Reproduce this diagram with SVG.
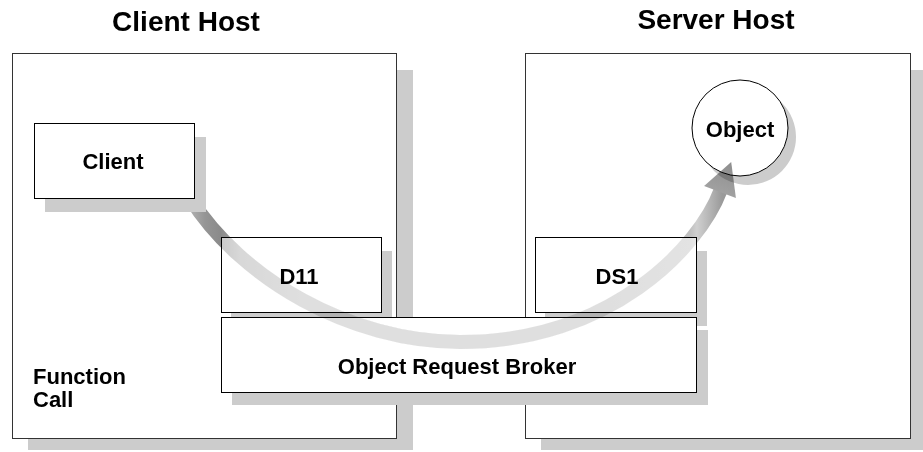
<svg xmlns="http://www.w3.org/2000/svg" width="923" height="452" viewBox="0 0 923 452">
<style>
.box{fill:#fff;stroke:#000;stroke-width:1}
.host{fill:#fff;stroke:#333;stroke-width:1}
.sh{fill:#cccccc;stroke:none}
.t{font-family:"Liberation Sans",Arial,sans-serif;font-weight:bold;font-size:22px;fill:#000}
.title{font-family:"Liberation Sans",Arial,sans-serif;font-weight:bold;font-size:28px;fill:#000}
</style>
<defs>
<linearGradient id="shaft" gradientUnits="userSpaceOnUse" x1="185" y1="0" x2="745" y2="0">
<stop offset="0.009" stop-color="#b0b0b0"/>
<stop offset="0.036" stop-color="#959595"/>
<stop offset="0.064" stop-color="#8a8a8a"/>
<stop offset="0.098" stop-color="#a8a8a8"/>
<stop offset="0.205" stop-color="#b8b8b8"/>
<stop offset="0.741" stop-color="#b8b8b8"/>
<stop offset="0.902" stop-color="#c0c0c0"/>
<stop offset="0.914" stop-color="#d0d0d0"/>
<stop offset="0.941" stop-color="#b0b0b0"/>
<stop offset="0.959" stop-color="#9a9a9a"/>
<stop offset="1" stop-color="#909090"/>
</linearGradient>
<linearGradient id="head" gradientUnits="userSpaceOnUse" x1="720" y1="195" x2="731" y2="162">
<stop offset="0" stop-color="#a2a2a2"/>
<stop offset="1" stop-color="#8e8e8e"/>
</linearGradient>
<clipPath id="inside">
<rect x="222" y="238" width="474" height="154"/>
</clipPath>
<clipPath id="notClient">
<path d="M0,0 H923 V452 H0 Z M34,123 H206 V212 H34 Z" clip-rule="evenodd"/>
</clipPath>
</defs>
<rect x="0" y="0" width="923" height="452" fill="#fff"/>

<g id="client-host">
<rect class="sh" x="28" y="70" width="385" height="380"/>
<rect class="host" x="12.5" y="53.5" width="384" height="385"/>
<text class="title" x="186" y="31" text-anchor="middle">Client Host</text>
<text class="t" x="33" y="384">Function</text>
<text class="t" x="33" y="407">Call</text>
</g>

<g id="server-host">
<rect class="sh" x="541" y="70" width="386" height="380"/>
<rect class="host" x="525.5" y="53.5" width="385" height="385"/>
<text class="title" x="716" y="29" text-anchor="middle">Server Host</text>
</g>

<g id="client">
<rect class="sh" x="45" y="137" width="161" height="75"/>
<rect class="box" x="34.5" y="123.5" width="160" height="75"/>
<text class="t" x="113" y="169" text-anchor="middle">Client</text>
</g>

<g id="d11">
<rect class="sh" x="231" y="251" width="161" height="75"/>
<rect class="box" x="221.5" y="237.5" width="160" height="75"/>
<text class="t" x="299" y="284" text-anchor="middle">D11</text>
</g>

<g id="ds1">
<rect class="sh" x="545" y="251" width="162" height="75"/>
<rect class="box" x="535.5" y="237.5" width="161" height="75"/>
<text class="t" x="617" y="284" text-anchor="middle">DS1</text>
</g>

<g id="orb">
<rect class="sh" x="232" y="330" width="476" height="75"/>
<rect class="box" x="221.5" y="317.5" width="475" height="75"/>
<text class="t" x="457" y="374" text-anchor="middle">Object Request Broker</text>
</g>

<g id="object">
<circle class="sh" cx="748" cy="137" r="48"/>
<circle class="box" cx="740" cy="128" r="48"/>
<text class="t" x="740" y="137" text-anchor="middle">Object</text>
</g>

<g id="connectors" style="mix-blend-mode:multiply">
<g clip-path="url(#notClient)">
<path d="M190,198 C240.6,278.4 350,342 460,342 C610,342 699,248 720.7,190" fill="none" stroke="url(#shaft)" stroke-width="14"/>
<path d="M190,198 C240.6,278.4 350,342 460,342 C610,342 699,248 720.7,190" fill="none" stroke="#fff" stroke-opacity="0.55" stroke-width="15" clip-path="url(#inside)"/>
</g>
<polygon points="731.2,162 735.9,198 720,192 704.1,186" fill="url(#head)"/>
</g>
</svg>
